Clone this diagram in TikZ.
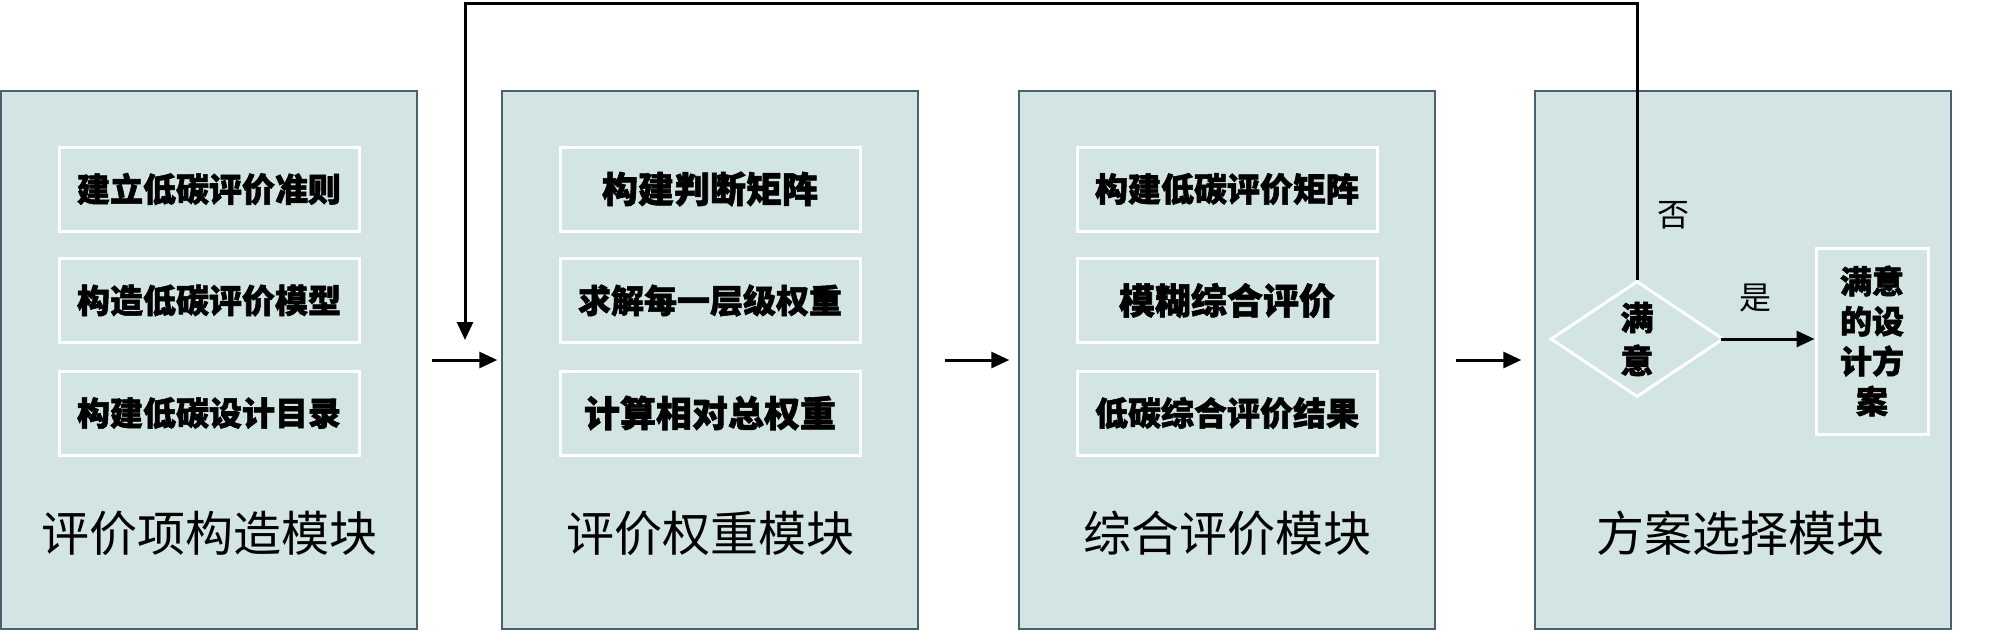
\documentclass[tikz,border=0pt]{standalone}
\usepackage{fontspec}
\setmainfont{Noto Sans CJK SC}[BoldFeatures={FakeBold=1.6}]
\usetikzlibrary{shapes.geometric,arrows.meta}
\definecolor{panel}{HTML}{D2E5E3}
\definecolor{panelborder}{HTML}{4E6070}
\tikzset{
  module/.style={draw=panelborder, line width=1.5pt, fill=panel, minimum width=416pt, minimum height=538pt, inner sep=0pt},
  stepbox/.style={draw=white, line width=3pt, minimum width=300pt, minimum height=84pt, inner sep=0pt, font=\fontsize{33}{40}\selectfont\bfseries},
  bigstep/.style={stepbox, font=\fontsize{36}{42}\selectfont\bfseries},
  modtitle/.style={font=\fontsize{48}{56}\selectfont, inner sep=0pt},
  arr/.style={-{Triangle[length=18pt,width=16pt]}, line width=3pt, black},
  lbl/.style={font=\fontsize{32}{38}\selectfont, inner sep=0pt}
}
\begin{document}
\begin{tikzpicture}[x=1pt,y=-1pt]
\useasboundingbox (0,0) rectangle (2000,630);
% modules
\node[module] (m1) at (209,360) {};
\node[module] (m2) at (710,360) {};
\node[module] (m3) at (1227,360) {};
\node[module] (m4) at (1743,360) {};
% titles
\node[modtitle] (t1) at (209,533) {评价项构造模块};
\node[modtitle] (t2) at (710,533) {评价权重模块};
\node[modtitle] (t3) at (1227,533) {综合评价模块};
\node[modtitle] (t4) at (1740,533) {方案选择模块};
% steps
\node[stepbox] (a1) at (209,189) {建立低碳评价准则};
\node[stepbox] (a2) at (209,300.5) {构造低碳评价模型};
\node[stepbox] (a3) at (209,413) {构建低碳设计目录};
\node[bigstep] (b1) at (710,189) {构建判断矩阵};
\node[stepbox] (b2) at (710,300.5) {求解每一层级权重};
\node[bigstep] (b3) at (710,413) {计算相对总权重};
\node[stepbox] (c1) at (1227,189) {构建低碳评价矩阵};
\node[bigstep] (c2) at (1227,300.5) {模糊综合评价};
\node[stepbox] (c3) at (1227,413) {低碳综合评价结果};
% decision
\node[diamond, draw=white, line width=3pt, minimum width=173pt, minimum height=116pt, inner sep=0pt, align=center, font=\fontsize{33}{43}\selectfont\bfseries] (d) at (1637,339) {满\\意};
\node[draw=white, line width=3pt, minimum width=112pt, minimum height=186pt, inner sep=0pt, align=center, font=\fontsize{32}{40}\selectfont\bfseries] (r) at (1872,341) {满意\\的设\\计方\\案};
% connectors
\draw[arr, shorten <=14pt, shorten >=4pt] (m1.east) -- (m2.west);
\draw[arr, shorten <=26pt, shorten >=9pt] (m2.east) -- (m3.west);
\draw[arr, shorten <=20pt, shorten >=13pt] (m3.east) -- (m4.west);
\draw[arr, shorten <=-4pt] (d.east) -- (d.east -| r.west);
\node[lbl] (yes) at (1755,298) {是};
\node[lbl] (no) at (1673,215) {否};
\coordinate (fbtop) at (465,3);
\coordinate (fbend) at (465,340);
\draw[arr] (d.north) |- (fbtop) -- (fbend);
\end{tikzpicture}
\end{document}
